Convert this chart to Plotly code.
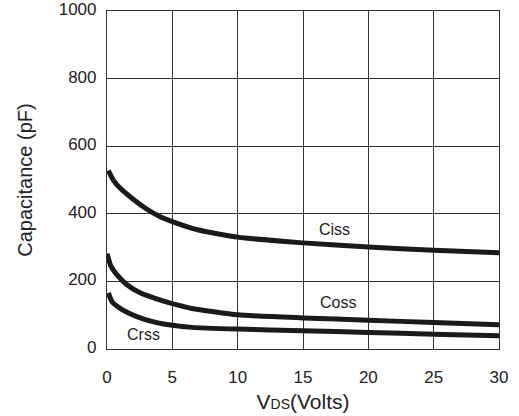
import plotly.graph_objects as go

vds_ciss = [0.1, 0.5, 1.0, 2.0, 3.0, 4.0, 5.0, 7.0, 10, 15, 20, 25, 30]
ciss = [528, 499, 476, 443, 415, 393, 377, 352, 331, 314, 302, 292, 285]
vds_coss = [0.0, 0.3, 0.75, 1.5, 2.5, 3.8, 5, 6.5, 10, 15, 20, 25, 30]
coss = [282, 245, 220, 191, 167, 148, 134, 120, 101, 92, 85, 78.5, 72]
vds_crss = [0.1, 0.4, 1.1, 1.9, 2.7, 3.8, 5, 6.5, 10, 15, 20, 25, 30]
crss = [166, 139, 118, 102, 90, 78, 70, 64, 59, 54, 49, 44, 39]

series = [("Ciss", vds_ciss, ciss), ("Coss", vds_coss, coss), ("Crss", vds_crss, crss)]
label_pos = {"Ciss": (17.4, 355), "Coss": (17.7, 138), "Crss": (2.8, 42)}

fig = go.Figure()
for name, xs, vals in series:
    fig.add_trace(go.Scatter(x=xs, y=vals, mode="lines", name=name,
                             line=dict(color="#1a1a1a", width=5, shape="spline", smoothing=0.5),
                             showlegend=False, cliponaxis=False))
for name, (lx, ly) in label_pos.items():
    fig.add_annotation(x=lx, y=ly, text=name, showarrow=False,
                       font=dict(family="Liberation Sans, Arial", size=16, color="#222"))

fig.update_layout(
    width=519, height=416,
    margin=dict(l=107, r=20, t=11, b=67),
    paper_bgcolor="white", plot_bgcolor="white",
    font=dict(family="Liberation Sans, Arial", color="#222"),
    xaxis=dict(range=[0, 30], tickvals=[0, 5, 10, 15, 20, 25, 30], showgrid=True,
               gridcolor="#333", gridwidth=1.2, zeroline=False, showline=True,
               linecolor="#333", linewidth=1.2, mirror=True, ticks="", automargin=False,
               tickfont=dict(size=17), ticklabelstandoff=12, ticklabeloverflow="allow",
               title=dict(text="V<span style='font-size:14px'>DS</span>(Volts)", font=dict(size=21), standoff=8)),
    yaxis=dict(range=[0, 1000], tickvals=[0, 200, 400, 600, 800, 1000], showgrid=True,
               gridcolor="#333", gridwidth=1.2, zeroline=False, showline=True,
               linecolor="#333", linewidth=1.2, mirror=True, ticks="", automargin=False,
               tickfont=dict(size=17), ticklabelstandoff=6, ticklabeloverflow="allow",
               ticklabelshift=-2,
               title=dict(text="Capacitance (pF)", font=dict(size=20), standoff=20)),
)
fig.write_html("out.html", config={"displayModeBar": False},
               post_script="document.body.style.margin='0';document.body.style.padding='0';")
